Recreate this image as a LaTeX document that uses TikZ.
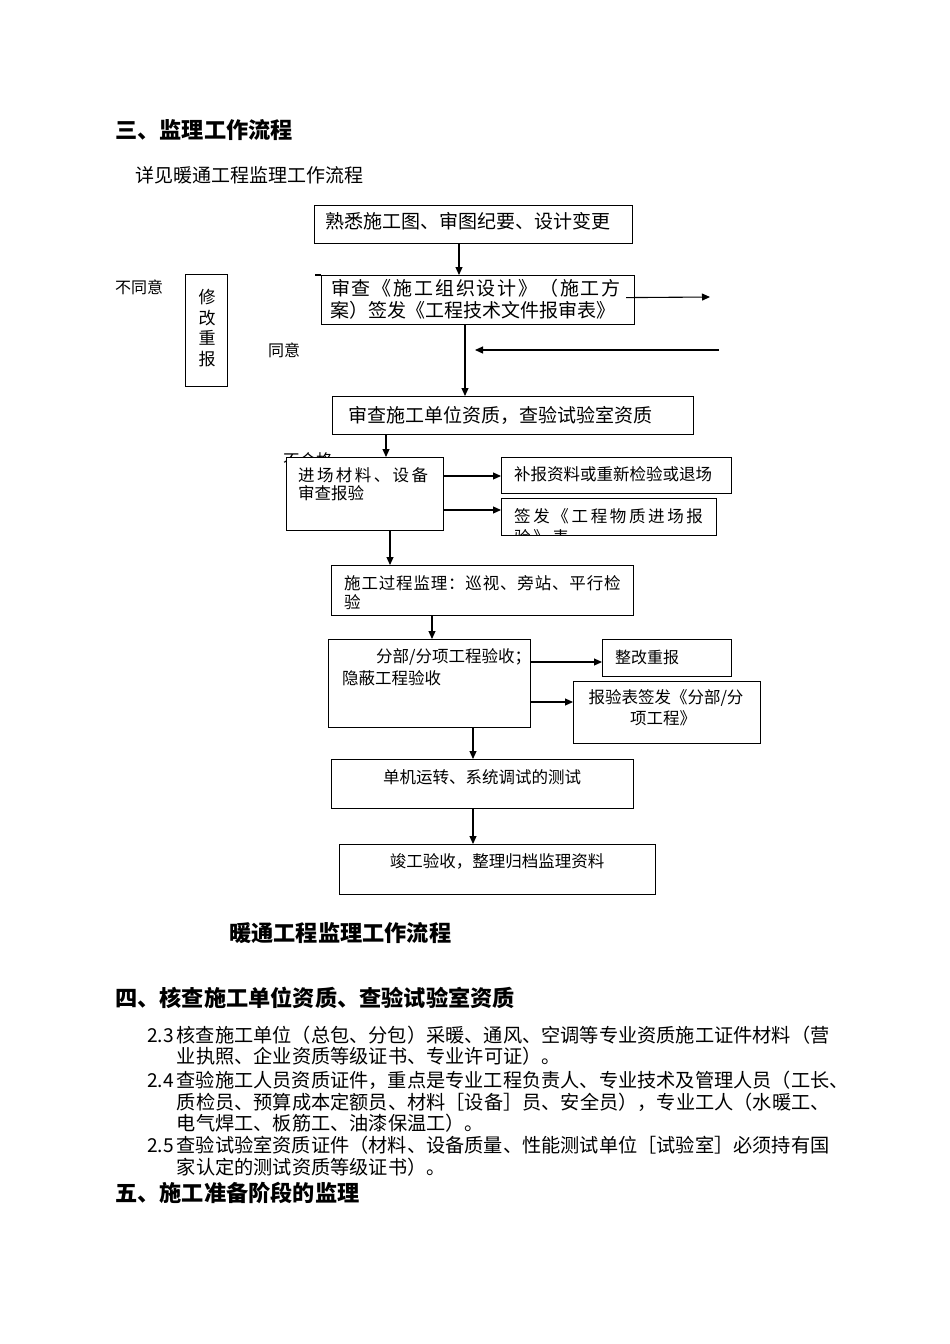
\documentclass[tikz,border=0pt]{standalone}
\usepackage{fontspec}
\setmainfont{Noto Sans CJK SC}
\usetikzlibrary{arrows.meta,calc}
\newcommand\fs[1]{\fontsize{#1}{#1}\selectfont}
\newcommand\lsp[1]{\addfontfeatures{LetterSpace=#1}}
\begin{document}
\begin{tikzpicture}[x=1pt,y=-1pt,
  box/.style={draw, line width=1.2pt, fill=white, inner sep=0, anchor=north west},
  txt/.style={inner sep=0, anchor=west},
  ctxt/.style={inner sep=0, anchor=center},
  arr/.style={line width=1.1pt, -{Triangle[length=8pt,width=7pt]}},
  ln/.style={line width=1.1pt}]
\useasboundingbox[fill=white] (0,0) rectangle (950,1344);

% column / row helper coordinates
\coordinate (c386) at (386,0);
\coordinate (c390) at (390,0);
\coordinate (c432) at (432,0);
\coordinate (c459) at (459,0);
\coordinate (c465) at (465,0);
\coordinate (c473) at (473,0);
\coordinate (y476) at (0,476);
\coordinate (y510) at (0,510);
\coordinate (y662) at (0,662);
\coordinate (y702) at (0,702);

% headings
\node[txt,font=\bfseries\fs{22.2}] (h3) at (115,130) {三、监理工作流程};
\node[txt,font=\fs{19}] (intro) at (135,175) {详见暖通工程监理工作流程};

% box 1
\node[box,minimum width=318pt,minimum height=38pt] (b1) at (314,205) {};
\node[txt,font=\fs{19}] (t1) at (325,221) {熟悉施工图、审图纪要、设计变更};

% box 2
\node[box,minimum width=313pt,minimum height=49pt] (b2) at (321,275) {};
\draw[ln] (b2.north west) -- ++(-6,0);
\node[txt,font=\fs{19}\lsp{9.5}] (t2a) at (331,288) {审查《施工组织设计》（施工方};
\node[txt,font=\fs{19}] (t2b) at (330,310) {案）签发《工程技术文件报审表》};
\draw[arr] (b1.south -| c459) -- (b2.north -| c459);

% side labels and box
\node[txt,font=\fs{16}] (nagree) at (115,287) {不同意};
\node[txt,font=\fs{16}] (agree) at (268,350) {同意};
\node[box,minimum width=42pt,minimum height=112pt] (bx) at (185,274) {};
\node[ctxt,font=\fs{17}] (x1) at (207,297) {修};
\node[ctxt,font=\fs{17}] (x2) at (207,318) {改};
\node[ctxt,font=\fs{17}] (x3) at (207,338) {重};
\node[ctxt,font=\fs{17}] (x4) at (207,359) {报};

% right / left arrows
\coordinate (r1) at (710,297);
\draw[arr] ($(b2.east)+(-9,-2.5)$) -- (r1);
\coordinate (l1) at (719,350);
\coordinate (l2) at (475,350);
\draw[arr] (l1) -- (l2);

% box 3
\node[box,minimum width=361pt,minimum height=38pt] (b3) at (332,396) {};
\node[txt,font=\fs{19}] (t3) at (348,415) {审查施工单位资质，查验试验室资质};
\draw[arr] (b2.south -| c465) -- (b3.north -| c465);

% box 4
\node[txt,font=\fs{16.5}] (bhg) at (283,460) {不合格};
\node[box,minimum width=157pt,minimum height=73pt] (b4) at (286,457) {};
\node[txt,font=\fs{16.5}\lsp{14.5}] (t4a) at (298,475) {进场材料、设备};
\node[txt,font=\fs{16.5}] (t4b) at (298,493) {审查报验};
\draw[arr] (b3.south -| c386) -- (b4.north -| c386);

% box 5, 6
\node[box,minimum width=230pt,minimum height=36pt] (b5) at (501,457) {};
\node[txt,font=\fs{16.5}] (t5) at (514,474) {补报资料或重新检验或退场};
\node[box,minimum width=215pt,minimum height=37pt] (b6) at (501,498) {};
\node[txt,font=\fs{16.5}\lsp{16}] (t6a) at (514,516) {签发《工程物质进场报};
\begin{scope}
  \clip ($(b6.north west)+(1,1)$) rectangle ($(b6.south east)+(-1,-1)$);
  \node[txt,font=\fs{16.5}\lsp{16}] (t6b) at (514,537) {验》表};
\end{scope}
\draw[arr] (b4.east |- y476) -- (b5.west |- y476);
\draw[arr] (b4.east |- y510) -- (b6.west |- y510);

% box 7
\node[box,minimum width=302pt,minimum height=50pt] (b7) at (331,565) {};
\node[txt,font=\fs{16.5}\lsp{5}] (t7a) at (344,583) {施工过程监理：巡视、旁站、平行检};
\node[txt,font=\fs{16.5}] (t7b) at (344,602) {验};
\draw[arr] (b4.south -| c390) -- (b7.north -| c390);

% box 8
\node[box,minimum width=202pt,minimum height=88pt] (b8) at (328,639) {};
\node[txt,font=\fs{16.5}] (t8a) at (376,657) {分部/分项工程验收；};
\node[txt,font=\fs{16.5}] (t8b) at (342,678) {隐蔽工程验收};
\draw[arr] (b7.south -| c432) -- (b8.north -| c432);

% box 9, 10
\node[box,minimum width=129pt,minimum height=37pt] (b9) at (602,639) {};
\node[txt,font=\fs{16}] (t9) at (615,657) {整改重报};
\node[box,minimum width=187pt,minimum height=62pt] (b10) at (573,681) {};
\node[ctxt,font=\fs{16.5}] (t10a) at (666,698) {报验表签发《分部/分};
\node[ctxt,font=\fs{16.5}] (t10b) at (663,718) {项工程》};
\draw[arr] (b8.east |- y662) -- (b9.west |- y662);
\draw[arr] (b8.east |- y702) -- (b10.west |- y702);

% box 11
\node[box,minimum width=302pt,minimum height=49pt] (b11) at (331,759) {};
\node[ctxt,font=\fs{16.5}] (t11) at (482,777) {单机运转、系统调试的测试};
\draw[arr] (b8.south -| c473) -- (b11.north -| c473);

% box 12
\node[box,minimum width=316pt,minimum height=50pt] (b12) at (339,844) {};
\node[ctxt,font=\fs{16.5}] (t12) at (497,861) {竣工验收，整理归档监理资料};
\draw[arr] (b11.south -| c473) -- (b12.north -| c473);

% caption and section 4
\node[txt,font=\bfseries\fs{22.2}] (cap) at (229,933) {暖通工程监理工作流程};
\node[txt,font=\bfseries\fs{22.2}] (h4) at (115,998) {四、核查施工单位资质、查验试验室资质};

\node[txt,font=\fs{19.2}] (p1) at (147,1035) {\makebox[29.6pt][l]{2.3}核查施工单位（总包、分包）采暖、通风、空调等专业资质施工证件材料（营};
\node[txt,font=\fs{19.2}] (p2) at (176.6,1056) {业执照、企业资质等级证书、专业许可证）。};
\node[txt,font=\fs{19.2}] (p3) at (147,1080) {\makebox[29.6pt][l]{2.4}查验施工人员资质证件，重点是专业工程负责人、专业技术及管理人员（工长、};
\node[txt,font=\fs{19.2}] (p4) at (176.6,1102) {质检员、预算成本定额员、材料［设备］员、安全员），专业工人（水暖工、};
\node[txt,font=\fs{19.2}] (p5) at (176.6,1123) {电气焊工、板筋工、油漆保温工）。};
\node[txt,font=\fs{19.2}] (p6) at (147,1145) {\makebox[29.6pt][l]{2.5}查验试验室资质证件（材料、设备质量、性能测试单位［试验室］必须持有国};
\node[txt,font=\fs{19.2}] (p7) at (176.6,1167) {家认定的测试资质等级证书）。};

\node[txt,font=\bfseries\fs{22.2}] (h5) at (115,1193) {五、施工准备阶段的监理};
\end{tikzpicture}
\end{document}
